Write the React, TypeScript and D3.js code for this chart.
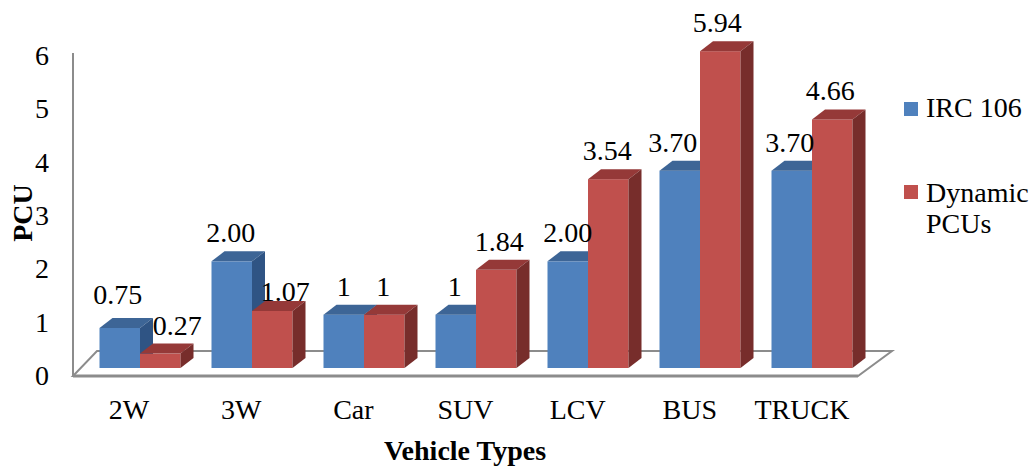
import React from "react";
import * as d3 from "d3";

const categories = ["2W", "3W", "Car", "SUV", "LCV", "BUS", "TRUCK"];
const irc106 = [0.75, 2.0, 1, 1, 2.0, 3.7, 3.7];
const dynamicPCU = [0.27, 1.07, 1, 1.84, 3.54, 5.94, 4.66];
const ircLabels = ["0.75", "2.00", "1", "1", "2.00", "3.70", "3.70"];
const dynLabels = ["0.27", "1.07", "1", "1.84", "3.54", "5.94", "4.66"];
const yTicks = [0, 1, 2, 3, 4, 5, 6];
const seriesNames = ["IRC 106", "Dynamic PCUs"];

// label nudges (style), per series
const ircNudgeX = [-2, -1, 0, -1, 0, -7, -2];
const ircNudgeY = [-5, 0, 0, 0, 0, 0, 0];
const dynNudgeX = [17, 13, -1, 3, -1, -3, -2];
const dynNudgeY = [0, 9, 0, 0, 0, 0, 0];

const W = 1035;
const H = 466;
const FONT = "'Liberation Serif', 'Times New Roman', serif";

const colors = {
  blue: { front: "#4F81BD", top: "#3D6596", side: "#2F5484" },
  red: { front: "#C0504D", top: "#953938", side: "#772D2B" },
};

export default function App() {
  const x = d3.scaleBand<string>().domain(categories).range([84, 868]).padding(0);
  const y = d3.scaleLinear().domain([0, 6]).range([368, 48]);
  const barW = 40.5;
  const dx = 13;
  const dy = -10;
  const axisColor = "#8C8C8C";

  const bar = (x0: number, v: number, c: { front: string; top: string; side: string }, key: string) => {
    const x1 = x0 + barW;
    const yT = y(v);
    const yB = y(0);
    return (
      <g key={key}>
        <rect x={x0} y={yT} width={barW} height={yB - yT} fill={c.front} />
        <polygon
          points={`${x0},${yT} ${x1},${yT} ${x1 + dx},${yT + dy} ${x0 + dx},${yT + dy}`}
          fill={c.top}
        />
        <polygon
          points={`${x1},${yT} ${x1 + dx},${yT + dy} ${x1 + dx},${yB + dy} ${x1},${yB}`}
          fill={c.side}
        />
      </g>
    );
  };

  const ts = { fontFamily: FONT };

  return (
    <svg
      width={W}
      height={H}
      style={{ position: "absolute", left: 0, top: 0, background: "#fff" }}
      fontFamily={FONT}
    >
      {/* floor */}
      <polygon
        points="73,376 858,376 892,351 97,351"
        fill="#fff"
        stroke={axisColor}
        strokeWidth={2}
      />
      <line x1={73} y1={376} x2={858} y2={376} stroke={axisColor} strokeWidth={3} />
      {/* vertical axis line */}
      <line x1={73} y1={53} x2={73} y2={377} stroke={axisColor} strokeWidth={2} />

      {/* bars */}
      {categories.map((cat, i) => {
        const cx = (x(cat) as number) + x.bandwidth() / 2;
        return (
          <g key={cat}>
            {bar(cx - barW, irc106[i], colors.blue, "b" + i)}
            {bar(cx, dynamicPCU[i], colors.red, "r" + i)}
          </g>
        );
      })}

      {/* data labels */}
      {categories.map((cat, i) => {
        const cx = (x(cat) as number) + x.bandwidth() / 2;
        return (
          <g key={"l" + cat} fontSize={28} fill="#000" textAnchor="middle">
            <text style={ts} x={cx - barW / 2 + ircNudgeX[i]} y={y(irc106[i]) - 19 + ircNudgeY[i]}>
              {ircLabels[i]}
            </text>
            <text style={ts} x={cx + barW / 2 + dynNudgeX[i]} y={y(dynamicPCU[i]) - 19 + dynNudgeY[i]}>
              {dynLabels[i]}
            </text>
          </g>
        );
      })}

      {/* y tick labels */}
      {yTicks.map((t) => (
        <text style={ts} key={"t" + t} x={49} y={y(t) + 17} fontSize={28} textAnchor="end" fill="#000">
          {t}
        </text>
      ))}

      {/* x category labels */}
      {categories.map((cat, i) => (
        <text
          style={ts}
          key={"c" + cat}
          x={73 + ((858 - 73) / categories.length) * (i + 0.5)}
          y={419}
          fontSize={28}
          textAnchor="middle"
          fill="#000"
        >
          {cat}
        </text>
      ))}

      {/* axis titles */}
      <text style={ts} x={465} y={460} fontSize={28} fontWeight="bold" textAnchor="middle" fill="#000">
        Vehicle Types
      </text>
      <text
        style={ts}
        transform="translate(32,213) rotate(-90)"
        fontSize={28}
        fontWeight="bold"
        textAnchor="middle"
        fill="#000"
      >
        PCU
      </text>

      {/* legend */}
      <rect x={904} y={102} width={14} height={14} fill={colors.blue.front} />
      <text style={ts} x={926} y={117} fontSize={28} fill="#000">
        {seriesNames[0]}
      </text>
      <rect x={904} y={185} width={14} height={14} fill={colors.red.front} />
      <text style={ts} x={926} y={202} fontSize={28} fill="#000">
        Dynamic
      </text>
      <text style={ts} x={926} y={233} fontSize={28} fill="#000">
        PCUs
      </text>
    </svg>
  );
}
